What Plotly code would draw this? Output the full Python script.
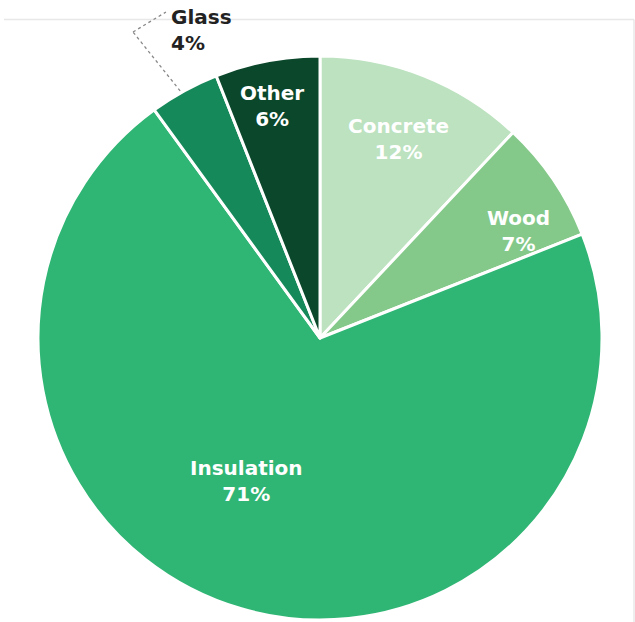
import math
import plotly.graph_objects as go

# Share of embodied carbon by material
materials = ["Concrete", "Wood", "Insulation", "Glass", "Other"]
shares = [12, 7, 71, 4, 6]
colors = ["#bce2bf", "#84c98a", "#2fb574", "#16895a", "#0b472a"]

W, H = 635, 622
CX, CY, R = 320, 338, 282  # pie centre and radius in pixels

# label placement inside each slice: radial fraction and angular nudge (deg)
label_radius = [0.76, 0.80, 0.57, None, 0.84]
label_nudge = [0, 6, 11, 0, -1]

FONT = "DejaVu Sans"
FONT_SIZE = 20


def px_to_paper(x, y):
    return x / W, 1 - y / H


def slice_point(idx, frac, nudge=0.0):
    total = sum(shares)
    start = sum(shares[:idx]) / total
    mid = (start + shares[idx] / total / 2) * 360 + nudge
    t = math.radians(mid)
    return CX + frac * R * math.sin(t), CY - frac * R * math.cos(t)


fig = go.Figure(
    go.Pie(
        labels=materials,
        values=shares,
        sort=False,
        direction="clockwise",
        rotation=0,
        marker=dict(colors=colors, line=dict(color="white", width=3)),
        textinfo="none",
        hoverinfo="label+percent",
        showlegend=False,
        domain=dict(x=[(CX - R) / W, (CX + R) / W], y=[1 - (CY + R) / H, 1 - (CY - R) / H]),
    )
)

annotations = []
for i, name in enumerate(materials):
    if label_radius[i] is None:
        continue
    x, y = slice_point(i, label_radius[i], label_nudge[i])
    px, py = px_to_paper(x, y)
    annotations.append(
        dict(
            x=px, y=py, xref="paper", yref="paper",
            xanchor="center", yanchor="middle",
            text=f"<b>{name}</b><br><b>{shares[i]}%</b>",
            showarrow=False,
            font=dict(family=FONT, size=FONT_SIZE, color="white"),
            align="center",
        )
    )

# Glass sits outside the pie with a dotted leader
gi = materials.index("Glass")
gx, gy = px_to_paper(169, 30)
annotations.append(
    dict(
        x=gx, y=gy, xref="paper", yref="paper",
        xanchor="left", yanchor="middle",
        text=f"<b>{materials[gi]}</b><br><b>{shares[gi]}%</b>",
        showarrow=False,
        font=dict(family=FONT, size=FONT_SIZE, color="#222222"),
        align="left",
    )
)

sx, sy = slice_point(gi, 1.0)
leader = [(sx - 4, sy), (133, 32), (166, 12)]
shapes = []
for (x0, y0), (x1, y1) in zip(leader[:-1], leader[1:]):
    a0, b0 = px_to_paper(x0, y0)
    a1, b1 = px_to_paper(x1, y1)
    shapes.append(
        dict(type="line", xref="paper", yref="paper", x0=a0, y0=b0, x1=a1, y1=b1,
             line=dict(color="#888888", width=1.3, dash="dot"))
    )

# faint frame along the top and right
for (x0, y0, x1, y1) in [(4, 19.5, 634, 19.5), (634, 19.5, 634, 622)]:
    a0, b0 = px_to_paper(x0, y0)
    a1, b1 = px_to_paper(x1, y1)
    shapes.append(
        dict(type="line", xref="paper", yref="paper", x0=a0, y0=b0, x1=a1, y1=b1,
             line=dict(color="#e8e8e8", width=1.5), layer="below")
    )

fig.update_layout(
    width=W, height=H,
    margin=dict(l=0, r=0, t=0, b=0),
    paper_bgcolor="white",
    plot_bgcolor="white",
    annotations=annotations,
    shapes=shapes,
)

fig.write_html("out.html")
